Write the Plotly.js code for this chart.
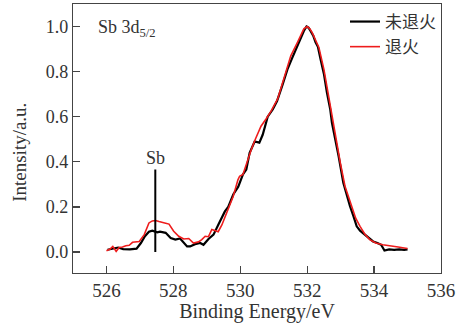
<!DOCTYPE html>
<html><head><meta charset="utf-8">
<script src="https://cdn.plot.ly/plotly-3.0.1.min.js"></script>
<style>html,body{margin:0;padding:0;background:#fff}</style>
</head><body>
<div id="chart" style="width:461px;height:323px"></div>
<script>
const seriesNames = ["未退火", "退火"];
const xUnannealed = [526.03, 526.2, 526.35, 526.5, 526.7, 526.9, 527.03, 527.15, 527.27, 527.37, 527.52, 527.6, 527.77, 527.92, 528.06, 528.2, 528.3, 528.41, 528.5, 528.65, 528.8, 528.9, 529.05, 529.2, 529.34, 529.44, 529.54, 529.64, 529.79, 529.94, 530.08, 530.18, 530.28, 530.43, 530.57, 530.67, 530.82, 530.97, 531.1, 531.26, 531.41, 531.55, 531.66, 531.8, 531.9, 531.98, 532.04, 532.1, 532.18, 532.25, 532.32, 532.4, 532.5, 532.59, 532.69, 532.74, 532.84, 532.94, 533.08, 533.18, 533.28, 533.38, 533.48, 533.58, 533.67, 533.8, 533.97, 534.1, 534.21, 534.31, 534.45, 534.6, 534.75, 534.9, 535.0];
const yUnannealed = [0.01, 0.015, 0.02, 0.013, 0.012, 0.015, 0.04, 0.07, 0.09, 0.095, 0.087, 0.09, 0.085, 0.062, 0.055, 0.06, 0.045, 0.025, 0.025, 0.035, 0.04, 0.032, 0.058, 0.077, 0.12, 0.15, 0.18, 0.2, 0.255, 0.29, 0.344, 0.366, 0.44, 0.49, 0.485, 0.52, 0.6, 0.632, 0.67, 0.74, 0.81, 0.86, 0.9, 0.95, 0.98, 1.0, 0.995, 0.98, 0.96, 0.93, 0.91, 0.855, 0.79, 0.707, 0.632, 0.573, 0.5, 0.425, 0.307, 0.25, 0.203, 0.16, 0.114, 0.095, 0.084, 0.065, 0.047, 0.04, 0.032, 0.007, 0.012, 0.01, 0.012, 0.01, 0.012];
const xAnnealed = [526.0, 526.1, 526.19, 526.29, 526.38, 526.48, 526.58, 526.68, 526.78, 526.88, 526.98, 527.13, 527.27, 527.37, 527.47, 527.57, 527.67, 527.77, 527.87, 528.01, 528.16, 528.31, 528.46, 528.6, 528.75, 528.85, 528.95, 529.05, 529.15, 529.25, 529.34, 529.45, 529.59, 529.7, 529.79, 529.93, 529.98, 530.08, 530.2, 530.33, 530.45, 530.62, 530.77, 530.92, 531.12, 531.31, 531.51, 531.71, 531.9, 532.0, 532.08, 532.15, 532.25, 532.35, 532.5, 532.64, 532.79, 532.99, 533.13, 533.33, 533.45, 533.58, 533.72, 533.87, 534.05, 534.26, 534.4, 534.56, 534.72, 534.9, 535.0];
const yAnnealed = [0.006, 0.012, 0.025, 0.003, 0.02, 0.022, 0.028, 0.03, 0.043, 0.045, 0.047, 0.077, 0.129, 0.138, 0.14, 0.135, 0.13, 0.128, 0.124, 0.092, 0.07, 0.058, 0.06, 0.04, 0.045, 0.055, 0.07, 0.068, 0.1, 0.095, 0.09, 0.12, 0.173, 0.21, 0.247, 0.32, 0.336, 0.344, 0.4, 0.455, 0.5, 0.558, 0.59, 0.625, 0.68, 0.77, 0.87, 0.93, 0.99, 1.0, 0.99, 0.973, 0.94, 0.907, 0.81, 0.69, 0.558, 0.396, 0.292, 0.203, 0.15, 0.114, 0.08, 0.055, 0.04, 0.032, 0.028, 0.025, 0.022, 0.018, 0.016];
const xTicks = [526, 528, 530, 532, 534, 536];
const yTicks = [0.0, 0.2, 0.4, 0.6, 0.8, 1.0];
const sbMarkerX = 527.46;
const sbMarkerTop = 0.366;

const serif = "Liberation Serif, Times New Roman, serif";
const traces = [
  {x: xUnannealed, y: yUnannealed, name: seriesNames[0], mode: "lines", line: {color: "#000000", width: 2.2}},
  {x: xAnnealed, y: yAnnealed, name: seriesNames[1], mode: "lines", line: {color: "#ee1c1c", width: 1.6}}
];
const axisCommon = {showgrid: false, zeroline: false, showline: true, mirror: true, linecolor: "#444", linewidth: 1.2, ticks: "inside", ticklen: 7, tickcolor: "#444", tickwidth: 1.2};
const layout = {
  width: 461, height: 323,
  margin: {l: 73, r: 20, t: 4, b: 50},
  paper_bgcolor: "#fff", plot_bgcolor: "#fff",
  font: {family: serif, color: "#333"},
  showlegend: true,
  legend: {x: 1, xanchor: "right", y: 1.0, yanchor: "top", bgcolor: "rgba(0,0,0,0)", borderwidth: 0,
           font: {family: "Noto Sans CJK SC, sans-serif", size: 17, color: "#333"}, itemwidth: 30, tracegroupgap: 0},
  xaxis: Object.assign({}, axisCommon, {range: [525, 536], tickvals: xTicks, ticktext: xTicks.map(String),
          tickfont: {family: serif, size: 19, color: "#333"},
          title: {text: "Binding Energy/eV", font: {family: serif, size: 20, color: "#333"}, standoff: 4}}),
  yaxis: Object.assign({}, axisCommon, {range: [-0.093, 1.1], tickvals: yTicks, ticktext: yTicks.map(v => v.toFixed(1)),
          tickfont: {family: serif, size: 18, color: "#333"}}),
  shapes: [{type: "line", xref: "x", yref: "y", x0: sbMarkerX, x1: sbMarkerX, y0: 0, y1: sbMarkerTop, line: {color: "#000", width: 2}}],
  annotations: [
    {xref: "paper", yref: "y", x: -0.144, y: 0.44, xanchor: "center", yanchor: "middle", showarrow: false, textangle: -90,
     text: "Intensity/a.u.", font: {family: serif, size: 19, color: "#333"}},
    {xref: "x", yref: "y", x: 525.7, y: 0.99, xanchor: "left", yanchor: "middle", showarrow: false,
     text: "Sb 3d<sub>5/2</sub>", font: {family: serif, size: 18, color: "#333"}},
    {xref: "x", yref: "y", x: sbMarkerX, y: sbMarkerTop, xanchor: "center", yanchor: "bottom", showarrow: false,
     text: "Sb", font: {family: serif, size: 18, color: "#333"}}
  ]
};
Plotly.newPlot("chart", traces, layout, {displayModeBar: false, staticPlot: true});
</script>
</body></html>
